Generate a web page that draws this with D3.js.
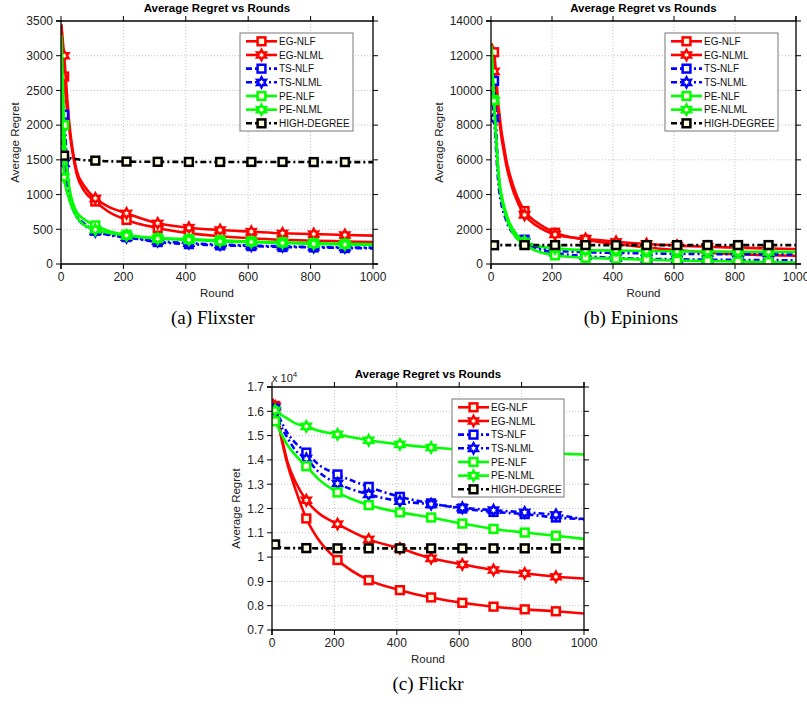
<!DOCTYPE html>
<html><head><meta charset="utf-8">
<script src="https://cdn.jsdelivr.net/npm/d3@7"></script>
<style>
html,body{margin:0;padding:0;background:#fff;}
svg{display:block;}
</style>
</head><body>
<svg id="chart" width="807" height="704"></svg>
<script>
// ---------- DATA ----------
const seriesNames = ["EG-NLF","EG-NLML","TS-NLF","TS-NLML","PE-NLF","PE-NLML","HIGH-DEGREE"];
const rounds = [1,10,25,50,75,110,150,210,310,410,510,610,710,810,910,1000];
const markerRounds = [10,110,210,310,410,510,610,710,810,910];
const xTicks = [0,200,400,600,800,1000];

// (a) Flixster
const flixsterYTicks = [0,500,1000,1500,2000,2500,3000,3500];
const flixsterEGNLF  = [3450,2700,2000,1300,1050,900,760,635,520,445,400,370,350,335,325,315];
const flixsterEGNLML = [3450,3000,2100,1350,1120,946,830,730,586,523,490,466,442,432,418,408];
const flixsterTSNLF  = [2600,2150,1100,700,580,479,430,388,316,287,268,258,244,239,230,225];
const flixsterTSNLML = [2000,1450,1000,680,560,470,420,385,330,300,280,265,255,245,240,235];
const flixsterPENLF  = [3300,2000,1150,750,640,555,480,421,373,359,340,325,311,302,290,282];
const flixsterPENLML = [3000,1250,950,680,560,493,450,412,364,350,325,316,302,290,280,275];
const flixsterHD     = [1580,1560,1530,1510,1495,1489,1480,1475,1472,1470,1470,1470,1470,1468,1468,1468];

// (b) Epinions
const epinionsYTicks = [0,2000,4000,6000,8000,10000,12000,14000];
const epinionsEGNLF  = [12700,12200,9000,6000,4400,3050,2400,1800,1400,1150,950,800,650,560,500,470];
const epinionsEGNLML = [12500,11100,8500,5700,4100,2830,2200,1700,1450,1280,1150,1060,990,940,890,860];
const epinionsTSNLF  = [11500,10550,5000,2800,1900,1400,1000,780,680,640,610,590,575,565,555,550];
const epinionsTSNLML = [10000,8400,4500,2500,1700,1250,900,650,450,350,300,270,250,235,225,215];
const epinionsPENLF  = [12500,9450,5000,2700,1700,1100,750,500,360,310,250,200,170,140,110,80];
const epinionsPENLML = [12600,9400,5200,2900,1900,1300,1050,900,800,780,750,730,720,710,700,700];
const epinionsHD     = [1080,1080,1085,1090,1090,1090,1090,1090,1090,1090,1090,1090,1090,1090,1090,1090];

// (c) Flickr (x 10^4)
const flickrYTicks = [0.7,0.8,0.9,1,1.1,1.2,1.3,1.4,1.5,1.6,1.7];
const flickrEGNLF  = [1.65,1.622,1.52,1.38,1.28,1.159,1.07,0.988,0.905,0.864,0.834,0.812,0.796,0.785,0.777,0.768];
const flickrEGNLML = [1.65,1.62,1.53,1.39,1.31,1.234,1.18,1.136,1.073,1.036,0.995,0.970,0.947,0.933,0.919,0.912];
const flickrTSNLF  = [1.63,1.611,1.57,1.51,1.47,1.43,1.38,1.34,1.289,1.248,1.221,1.200,1.186,1.177,1.163,1.156];
const flickrTSNLML = [1.62,1.60,1.55,1.49,1.44,1.405,1.35,1.303,1.258,1.230,1.218,1.203,1.193,1.184,1.174,1.156];
const flickrPENLF  = [1.57,1.559,1.52,1.46,1.42,1.374,1.32,1.266,1.214,1.184,1.163,1.138,1.116,1.101,1.088,1.075];
const flickrPENLML = [1.61,1.604,1.59,1.57,1.55,1.538,1.52,1.505,1.481,1.464,1.451,1.442,1.436,1.430,1.426,1.422];
const flickrHD     = [1.04,1.052,1.04,1.037,1.037,1.037,1.036,1.036,1.036,1.036,1.036,1.036,1.036,1.036,1.036,1.036];

// ---------- STYLES ----------
const styles = [
  {color:"#ff0000", dash:null, marker:"square"},
  {color:"#ff0000", dash:null, marker:"star"},
  {color:"#0000ff", dash:"6,3,2,3", marker:"square"},
  {color:"#0000ff", dash:"6,3,2,3", marker:"star"},
  {color:"#00ff00", dash:null, marker:"square"},
  {color:"#00ff00", dash:null, marker:"star"},
  {color:"#000000", dash:"6,3,2,3", marker:"square"}
];
const markerFill = "#fffde0";
const FONT = "'Liberation Sans', Arial, sans-serif";

const panels = [
  {box:{l:61,r:373,t:21,b:264}, yDomain:[0,3500], yTicks:flixsterYTicks,
   series:[flixsterEGNLF,flixsterEGNLML,flixsterTSNLF,flixsterTSNLML,flixsterPENLF,flixsterPENLML,flixsterHD],
   legend:{x:240,y:33,w:113,h:98}, ylabOff:46, caption:"(a) Flixster", capX:213, capY:324, fmt:d=>String(d)},
  {box:{l:491,r:796,t:21,b:264}, yDomain:[0,14000], yTicks:epinionsYTicks,
   series:[epinionsEGNLF,epinionsEGNLML,epinionsTSNLF,epinionsTSNLML,epinionsPENLF,epinionsPENLML,epinionsHD],
   legend:{x:665,y:33,w:113,h:98}, ylabOff:52, caption:"(b) Epinions", capX:631, capY:324, fmt:d=>String(d)},
  {box:{l:272,r:584,t:387,b:630}, yDomain:[0.7,1.7], yTicks:flickrYTicks,
   series:[flickrEGNLF,flickrEGNLML,flickrTSNLF,flickrTSNLML,flickrPENLF,flickrPENLML,flickrHD],
   legend:{x:452,y:399,w:112,h:98}, ylabOff:36, caption:"(c) Flickr", capX:428, capY:690, fmt:d=>String(+d.toFixed(1)), exp:true}
];

const svg = d3.select("#chart");

function starPath(r){
  const ri = r*0.55; let pts=[];
  for(let i=0;i<12;i++){
    const a = -Math.PI/2 + i*Math.PI/6;
    const rr = (i%2===0)?r:ri;
    pts.push([rr*Math.cos(a), rr*Math.sin(a)]);
  }
  return "M"+pts.map(p=>p[0].toFixed(2)+","+p[1].toFixed(2)).join("L")+"Z";
}
function drawMarker(g, type, x, y, color){
  if(type==="square"){
    g.append("rect").attr("x",x-3.9).attr("y",y-3.9).attr("width",7.8).attr("height",7.8)
      .attr("fill",markerFill).attr("stroke",color).attr("stroke-width",2.5);
  } else {
    g.append("path").attr("d",starPath(5.2)).attr("transform",`translate(${x},${y})`)
      .attr("fill",markerFill).attr("stroke",color).attr("stroke-width",2.3).attr("stroke-linejoin","miter");
  }
}

panels.forEach((p,pi)=>{
  const {l,r,t,b} = p.box;
  const x = d3.scaleLinear().domain([0,1000]).range([l,r]);
  const y = d3.scaleLinear().domain(p.yDomain).range([b,t]);
  const g = svg.append("g");

  // grid
  const grid = g.append("g").attr("stroke","#c4c4c4").attr("stroke-width",1).attr("stroke-dasharray","1,2");
  xTicks.forEach(v=>{ if(v>0 && v<1000) grid.append("line").attr("x1",x(v)).attr("x2",x(v)).attr("y1",t).attr("y2",b); });
  p.yTicks.forEach(v=>{ if(v>p.yDomain[0] && v<p.yDomain[1]) grid.append("line").attr("x1",l).attr("x2",r).attr("y1",y(v)).attr("y2",y(v)); });

  // clip
  const cid = "clip"+pi;
  svg.append("clipPath").attr("id",cid).append("rect").attr("x",l).attr("y",t).attr("width",r-l).attr("height",b-t);
  const plot = g.append("g").attr("clip-path",`url(#${cid})`);
  const line = d3.line().x((d,i)=>x(rounds[i])).y(d=>y(d)).curve(d3.curveMonotoneX);

  p.series.forEach((vals,si)=>{
    const st = styles[si];
    const sg = plot.append("g");
    sg.append("path").attr("d",line(vals)).attr("fill","none").attr("stroke",st.color)
      .attr("stroke-width",2.6).attr("stroke-dasharray",st.dash).attr("stroke-linejoin","round");
    rounds.forEach((rd,i)=>{
      if(markerRounds.includes(rd)) drawMarker(sg, st.marker, x(rd), y(vals[i]), st.color);
    });
  });

  // axes box lines
  const ax = g.append("g").attr("stroke","#000").attr("stroke-width",1.3);
  const tl = 5;
  ax.append("line").attr("x1",l).attr("x2",l).attr("y1",t).attr("y2",b+tl);
  ax.append("line").attr("x1",l).attr("x2",r+tl).attr("y1",b).attr("y2",b);
  ax.append("line").attr("x1",l-tl).attr("x2",r).attr("y1",t).attr("y2",t);
  ax.append("line").attr("x1",r).attr("x2",r).attr("y1",t-tl).attr("y2",b);
  // ticks
  const tk = g.append("g").attr("stroke","#000").attr("stroke-width",1);
  xTicks.forEach(v=>{
    tk.append("line").attr("x1",x(v)).attr("x2",x(v)).attr("y1",b).attr("y2",b+tl);
    tk.append("line").attr("x1",x(v)).attr("x2",x(v)).attr("y1",t-tl).attr("y2",t);
  });
  p.yTicks.forEach(v=>{
    tk.append("line").attr("x1",l-tl).attr("x2",l).attr("y1",y(v)).attr("y2",y(v));
    tk.append("line").attr("x1",r).attr("x2",r+tl).attr("y1",y(v)).attr("y2",y(v));
  });
  // tick labels
  const lab = g.append("g").attr("font-family",FONT).attr("font-size",12).attr("fill","#222");
  xTicks.forEach(v=>{
    lab.append("text").attr("x",x(v)).attr("y",b+17).attr("text-anchor","middle").text(v);
  });
  p.yTicks.forEach(v=>{
    lab.append("text").attr("x",l-8).attr("y",y(v)+4.3).attr("text-anchor","end").text(p.fmt(v));
  });
  if(p.exp){
    const et = lab.append("text").attr("x",l).attr("y",t-5).attr("font-size",11);
    et.append("tspan").text("x 10");
    et.append("tspan").attr("dy",-5).attr("font-size",8).text("4");
  }
  // axis labels
  lab.append("text").attr("x",(l+r)/2).attr("y",b+33).attr("text-anchor","middle").attr("font-size",11.5).text("Round");
  lab.append("text").attr("transform",`translate(${l-p.ylabOff},${(t+b)/2}) rotate(-90)`)
    .attr("text-anchor","middle").attr("font-size",11.5).attr("dy","0.35em").text("Average Regret");
  // title
  g.append("text").attr("x",(l+r)/2).attr("y",t-9.5).attr("text-anchor","middle")
    .attr("font-family",FONT).attr("font-size",11.5).attr("font-weight","bold").attr("fill","#000")
    .text("Average Regret vs Rounds");

  // legend
  const L = p.legend;
  const lg = g.append("g");
  lg.append("rect").attr("x",L.x).attr("y",L.y).attr("width",L.w).attr("height",L.h)
    .attr("fill","#fff").attr("stroke","#777").attr("stroke-width",1);
  seriesNames.forEach((nm,i)=>{
    const st = styles[i];
    const cy = L.y + 8.3 + i*13.67;
    lg.append("line").attr("x1",L.x+6).attr("x2",L.x+37).attr("y1",cy).attr("y2",cy)
      .attr("stroke",st.color).attr("stroke-width",2.6).attr("stroke-dasharray",st.dash);
    drawMarker(lg, st.marker, L.x+21.5, cy, st.color);
    lg.append("text").attr("x",L.x+39).attr("y",cy+3.6).attr("font-family",FONT).attr("font-size",10)
      .attr("fill","#111").text(nm);
  });

  // caption
  svg.append("text").attr("x",p.capX).attr("y",p.capY).attr("text-anchor","middle")
    .attr("font-family","'Liberation Serif','Times New Roman',serif").attr("font-size",19)
    .attr("fill","#000").text(p.caption);
});
</script>
</body></html>
